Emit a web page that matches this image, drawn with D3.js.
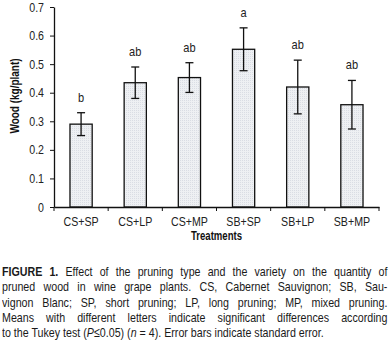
<!DOCTYPE html>
<html>
<head>
<meta charset="utf-8">
<script src="https://cdn.jsdelivr.net/npm/d3@7"></script>
<style>
  body { margin: 0; background: #fff; }
  #chart { position: relative; width: 391px; height: 349px; overflow: hidden; }
  #caption {
    position: absolute; left: 2px; top: 264px; width: 491px;
    transform: scaleX(0.785); transform-origin: 0 0;
    font-family: "Liberation Sans", Arial, sans-serif;
    font-size: 13.6px; line-height: 15.3px; color: #1a1a1a;
  }
  #caption div { white-space: nowrap; text-align: justify; text-align-last: justify; }
  #caption div.last { text-align-last: left; }
</style>
</head>
<body>
<div id="chart">
  <div id="caption">
    <div><b>FIGURE 1.</b> Effect of the pruning type and the variety on the quantity of</div>
    <div>pruned wood in wine grape plants. CS, Cabernet Sauvignon; SB, Sau-</div>
    <div>vignon Blanc; SP, short pruning; LP, long pruning; MP, mixed pruning.</div>
    <div>Means with different letters indicate significant differences according</div>
    <div class="last">to the Tukey test (<i>P</i>&le;0.05) (<i>n</i> = 4). Error bars indicate standard error.</div>
  </div>
</div>
<script>
const treatments = ["CS+SP", "CS+LP", "CS+MP", "SB+SP", "SB+LP", "SB+MP"];
const means = [0.29, 0.435, 0.453, 0.552, 0.42, 0.358];
const stdErr = [0.04, 0.055, 0.052, 0.075, 0.094, 0.085];
const letters = ["b", "ab", "ab", "a", "ab", "ab"];
const yTicks = [0, 0.1, 0.2, 0.3, 0.4, 0.5, 0.6, 0.7];

const width = 391, height = 349;
const margin = { top: 7, left: 54, right: 12, bottom: 142 };
const font = '"Liberation Sans", Arial, sans-serif';
const narrow = 0.85; // horizontal squeeze to mimic the condensed typeface

let svg = d3.select("#chart").append("svg")
    .attr("width", width)
    .attr("height", height)
    .style("position", "absolute").style("left", 0).style("top", 0);

let x = d3.scaleBand()
    .domain(treatments)
    .range([margin.left, width - margin.right])
    .paddingInner(0.59).paddingOuter(0.295);

let xOuter = d3.scaleBand()
    .domain(treatments)
    .range([margin.left, width - margin.right]);

let y = d3.scaleLinear()
    .domain([0, 0.7])
    .range([height - margin.bottom, margin.top]);

// light dotted fill like the scanned bars
let pat = svg.append("defs").append("pattern").attr("id", "dots")
    .attr("width", 2).attr("height", 2).attr("patternUnits", "userSpaceOnUse");
pat.append("rect").attr("width", 2).attr("height", 2).attr("fill", "#eef0f3");
pat.append("rect").attr("width", 1).attr("height", 1).attr("fill", "#dadde4");

// bars
svg.selectAll("rect.bar")
    .data(means)
    .enter()
    .append("rect")
    .attr("class", "bar")
    .attr("x", (d, i) => x(treatments[i]))
    .attr("y", d => y(d))
    .attr("width", x.bandwidth())
    .attr("height", d => y(0) - y(d))
    .attr("fill", "url(#dots)")
    .attr("stroke", "#111")
    .attr("stroke-width", 1.3);

// error bars
let cx = i => x(treatments[i]) + x.bandwidth() / 2;
let eb = svg.selectAll("g.err")
    .data(means)
    .enter()
    .append("g")
    .attr("class", "err")
    .attr("stroke", "#111")
    .attr("stroke-width", 1.3);
eb.append("line")
    .attr("x1", (d, i) => cx(i)).attr("x2", (d, i) => cx(i))
    .attr("y1", (d, i) => y(d + stdErr[i]))
    .attr("y2", (d, i) => y(d - stdErr[i]));
[1, -1].forEach(s => {
    eb.append("line")
        .attr("x1", (d, i) => cx(i) - 4)
        .attr("x2", (d, i) => cx(i) + 4)
        .attr("y1", (d, i) => y(d + s * stdErr[i]))
        .attr("y2", (d, i) => y(d + s * stdErr[i]));
});

// significance letters
svg.selectAll("text.letter")
    .data(means)
    .enter()
    .append("text")
    .attr("transform", (d, i) => `translate(${cx(i)},${y(d + stdErr[i]) - 11}) scale(${narrow},1)`)
    .attr("text-anchor", "middle")
    .attr("font-family", font)
    .attr("font-size", 13)
    .attr("fill", "#222")
    .text((d, i) => letters[i]);

// y axis
let gy = svg.append("g")
    .attr("transform", `translate(${margin.left},0)`)
    .call(d3.axisLeft(y).tickValues(yTicks)
        .tickFormat(d => d === 0 ? "0" : d3.format(".1f")(d))
        .tickSize(4).tickSizeOuter(0).tickPadding(6));
gy.selectAll(".tick text")
    .attr("transform", `translate(-10,0) scale(${narrow},1)`)
    .attr("x", 0);

// x axis, ticks at category boundaries
let gx = svg.append("g")
    .attr("transform", `translate(0,${y(0)})`)
    .call(d3.axisBottom(xOuter).tickSize(0).tickSizeOuter(0).tickPadding(10));
gx.selectAll(".tick text").attr("transform", `scale(${narrow},1)`);
gx.selectAll(".bd")
    .data([margin.left].concat(treatments.map(d => xOuter(d) + xOuter.bandwidth())))
    .enter()
    .append("line")
    .attr("x1", d => d).attr("x2", d => d)
    .attr("y1", 0).attr("y2", 4)
    .attr("stroke", "#111");

[gx, gy].forEach(g => {
    g.select(".domain").attr("stroke", "#111").attr("stroke-width", 1.3);
    g.selectAll(".tick line").attr("stroke", "#111");
    g.selectAll("text").attr("font-family", font).attr("font-size", 12.5).attr("fill", "#222");
});

// axis titles
svg.append("text")
    .attr("transform", `translate(${(margin.left + width - margin.right) / 2},240) scale(0.8,1)`)
    .attr("text-anchor", "middle")
    .attr("font-family", font)
    .attr("font-weight", "bold")
    .attr("font-size", 12)
    .attr("fill", "#111")
    .text("Treatments");

svg.append("text")
    .attr("transform", "translate(19,96) rotate(-90) scale(0.8,1)")
    .attr("text-anchor", "middle")
    .attr("font-family", font)
    .attr("font-weight", "bold")
    .attr("font-size", 12.5)
    .attr("fill", "#111")
    .text("Wood (kg/plant)");
</script>
</body>
</html>
